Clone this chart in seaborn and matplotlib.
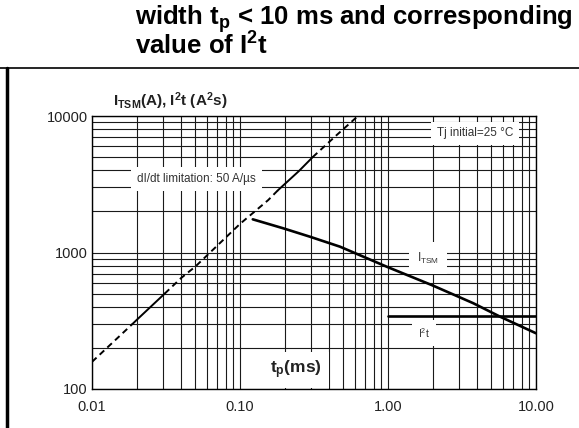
"""
Surge peak on-state current vs pulse width, with I2t (datasheet style figure).
"""

import matplotlib.pyplot as plt
import seaborn as sns
from matplotlib.lines import Line2D
from matplotlib.ticker import NullFormatter

# rising limit curve (dI/dt limitation)
rise_t = [0.01, 0.0188, 0.02, 0.031, 0.04, 0.05, 0.1, 0.155, 0.18, 0.25, 0.31, 0.45, 0.627]
rise_v = [158, 300, 320, 500, 650, 790, 1620, 2420, 2850, 3950, 5000, 7250, 10000]
# (start index, end index, style) pieces of the rising curve
rise_pieces = [(0, 1, '--'), (1, 3, '-'), (3, 8, '--'), (8, 10, '-'), (10, 12, '--')]

# ITSM curve
itsm_t = [0.122, 0.196, 0.297, 0.474, 0.98, 1.97, 3.77, 5.71, 10.0]
itsm_v = [1750, 1504, 1305, 1103, 787, 578, 425, 339, 256]

# I2t level
i2t_t = [1.0, 10.0]
i2t_v = [342, 342]

x_ticks = [0.01, 0.1, 1, 10]
x_labels = ['0.01', '0.10', '1.00', '10.00']
y_ticks = [100, 1000, 10000]
y_labels = ['100', '1000', '10000']

sns.set_style('white')
plt.rcParams['font.family'] = ['Liberation Sans', 'DejaVu Sans']
plt.rcParams['mathtext.fontset'] = 'custom'
plt.rcParams['mathtext.rm'] = 'Liberation Sans'
plt.rcParams['mathtext.it'] = 'Liberation Sans:italic'
plt.rcParams['mathtext.bf'] = 'Liberation Sans:bold'
plt.rcParams['mathtext.sf'] = 'Liberation Sans'
plt.rcParams['lines.dashed_pattern'] = [3.2, 2.2]

W, H = 579, 428
fig = plt.figure(figsize=(W / 100, H / 100), dpi=100)
ax = fig.add_axes([92 / W, 1 - 389 / H, (536 - 92) / W, (389 - 116) / H])

ax.set_xscale('log')
ax.set_yscale('log')

for i0, i1, ls in rise_pieces:
    sns.lineplot(x=rise_t[i0:i1 + 1], y=rise_v[i0:i1 + 1], ax=ax, color='black',
                 lw=1.4, linestyle=ls, zorder=3)

sns.lineplot(x=itsm_t, y=itsm_v, ax=ax, color='black', lw=1.9, zorder=3)
sns.lineplot(x=i2t_t, y=i2t_v, ax=ax, color='black', lw=1.9, zorder=3)

ax.set_xlim(0.01, 10)
ax.set_ylim(100, 10000)
ax.set_xticks(x_ticks)
ax.set_xticklabels(x_labels)
ax.set_yticks(y_ticks)
ax.set_yticklabels(y_labels)
ax.xaxis.set_minor_formatter(NullFormatter())
ax.yaxis.set_minor_formatter(NullFormatter())
ax.tick_params(which='both', length=0, labelsize=10.5, labelcolor='#222222')
ax.tick_params(axis='y', pad=3)
ax.tick_params(axis='x', pad=8)
ax.grid(which='both', color='#1a1a1a', lw=0.8)
ax.set_axisbelow(True)
for s in ax.spines.values():
    s.set_color('black')
    s.set_linewidth(1.0)

box = dict(boxstyle='square,pad=0.5', fc='white', ec='none')
ax.text(0.0508, 3454, 'dI/dt limitation: 50 A/µs', fontsize=8.5, color='#333333',
        ha='center', va='center', bbox=box, zorder=4)
ax.text(3.87, 7445, 'Tj initial=25 °C', fontsize=8.5, color='#333333',
        ha='center', va='center', bbox=box, zorder=4)
ax.text(1.86, 912, r'I$_\mathrm{TSM}$', fontsize=8.5, color='#333333',
        ha='center', va='center', bbox=dict(boxstyle='square,pad=0.7', fc='white', ec='none'),
        zorder=4)
ax.text(1.75, 257, r'I$^\mathrm{2}$t', fontsize=7.5, color='#333333',
        ha='center', va='center', bbox=dict(boxstyle='square,pad=0.6', fc='white', ec='none'),
        zorder=4)
ax.text(0.239, 138, r't$_\mathbf{p}$(ms)', fontsize=12.5, weight='bold', color='#222222',
        ha='center', va='center', bbox=dict(boxstyle='square,pad=0.4', fc='white', ec='none'),
        zorder=4)

fig.text(113 / W, 1 - 101 / H, r'I$_\mathbf{TSM}$(A), I$^\mathbf{2}$t (A$^\mathbf{2}$s)',
         fontsize=11, weight='bold', color='#222222', ha='left', va='center')

fig.text(135 / W, 1 - 25 / H, r'width t$_\mathbf{p}$ < 10 ms and corresponding',
         fontsize=18.5, weight='bold', color='black', ha='left', va='baseline')
fig.text(135 / W, 1 - 55 / H, r'value of I$^\mathbf{2}$t',
         fontsize=18.5, weight='bold', color='black', ha='left', va='baseline')

# outer frame of the datasheet cell
fig.add_artist(Line2D([0, 1], [1 - 68 / H, 1 - 68 / H], transform=fig.transFigure,
                      color='black', lw=1.2))
fig.add_artist(Line2D([7 / W, 7 / W], [0, 1 - 68 / H], transform=fig.transFigure,
                      color='black', lw=2.5))

fig.savefig('out.png', dpi=100)
